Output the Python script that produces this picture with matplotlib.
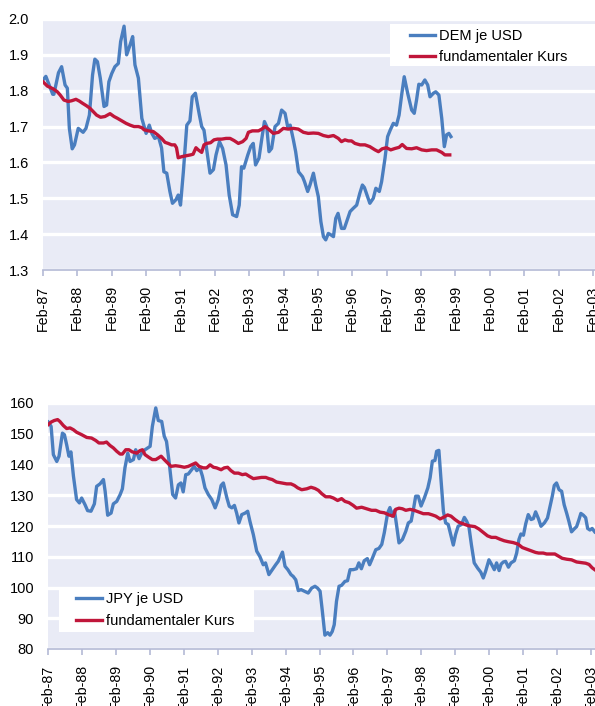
import matplotlib.pyplot as plt
from matplotlib.patches import Rectangle

plt.rcParams['font.family'] = ['Liberation Sans', 'DejaVu Sans']

# months counted from Feb-87
dem_month = [0, 1, 3.4, 3.8, 5.4, 6.5, 7.7, 8.5, 9.2, 10.2, 11, 12.3, 14, 15, 16.2, 17.3, 18.1, 19, 20,
             21.3, 22.2, 23, 24, 25.1, 26.3, 27.1, 28.3, 29.2, 30.4, 31.3, 32.1, 33.3, 34.5, 36, 37.1, 38,
             39, 40.3, 41.4, 42.2, 43.2, 44.3, 45.2, 46.4, 47.2, 48, 49, 50.2, 51.3, 52.1, 53.2, 54.6,
             55.4, 56.2, 57.1, 58.3, 59.5, 60.4, 61.6, 62.7, 63.9, 65, 66.2, 67.6, 68.5, 69.3, 70.1,
             71.5, 72.5, 73.4, 74.2, 75.4, 76.4, 77.3, 78.1, 78.9, 79.8, 81, 82.2, 83.3, 84.5, 85.4,
             86.3, 87.4, 88.2, 89.2, 90.6, 91.3, 92.4, 93.2, 94.4, 95.2, 96.1, 97, 97.9, 98.7, 99.6,
             100.5, 101.4, 102.2, 103, 104.2, 105.2, 106, 107.2, 108.3, 109.5, 110.6, 111.5, 112.2,
             113.3, 114.1, 115.3, 116.2, 117.4, 118.2, 119.4, 120.3, 121.2, 122.3, 123.4, 124.3,
             125.2, 126.1, 127.3, 128.7, 129.6, 130.4, 131.2, 132.2, 133.3, 134.3, 135.1, 136.3,
             137.1, 138.2, 139.2, 140.1, 140.9, 141.7, 142.4]
dem_value = [1.83, 1.84, 1.79, 1.79, 1.85, 1.867, 1.816, 1.807, 1.695, 1.638, 1.649, 1.695, 1.684,
             1.695, 1.732, 1.844, 1.888, 1.881, 1.835, 1.756, 1.76, 1.825, 1.848, 1.867, 1.876, 1.937,
             1.98, 1.9, 1.928, 1.951, 1.872, 1.835, 1.723, 1.681, 1.704, 1.681, 1.667, 1.672, 1.64,
             1.574, 1.57, 1.519, 1.486, 1.496, 1.509, 1.481, 1.574, 1.704, 1.716, 1.783, 1.793, 1.732,
             1.70, 1.69, 1.639, 1.57, 1.58, 1.621, 1.658, 1.639, 1.593, 1.509, 1.454, 1.449, 1.481,
             1.588, 1.584, 1.621, 1.644, 1.653, 1.593, 1.612, 1.667, 1.714, 1.70, 1.63, 1.639, 1.70,
             1.709, 1.746, 1.737, 1.70, 1.704, 1.663, 1.63, 1.574, 1.56, 1.546, 1.519, 1.537, 1.57,
             1.537, 1.505, 1.435, 1.393, 1.384, 1.402, 1.398, 1.393, 1.444, 1.458, 1.416, 1.416, 1.435,
             1.463, 1.472, 1.481, 1.514, 1.537, 1.53, 1.505, 1.486, 1.5, 1.528, 1.519, 1.546, 1.612,
             1.672, 1.69, 1.709, 1.704, 1.732, 1.788, 1.839, 1.793, 1.746, 1.737, 1.774, 1.818, 1.816,
             1.83, 1.816, 1.783, 1.793, 1.797, 1.788, 1.723, 1.644, 1.677, 1.681, 1.672]

dem_fund_month = [0, 1.5, 3.6, 5, 6, 7.3, 8.8, 10, 11.5, 12.7, 13.8, 15.2, 16.4, 17.5, 18.7, 20.1, 21.6,
                  23.4, 24.8, 26, 27.5, 29, 30.4, 31.8, 33.3, 34.5, 35.3, 36.8, 38.5, 40, 41.4, 42.6,
                  43.7, 44.9, 46, 46.6, 47.2, 48.4, 50.2, 51.5, 52.4, 53.4, 54.2, 55.4, 56.2, 57.1, 58.5,
                  59.7, 60.9, 62.4, 63.9, 65.3, 66.7, 68.2, 69.7, 70.9, 71.7, 73.1, 75.2, 76.4, 77.5,
                  78.7, 80.4, 82.2, 83.9, 85.6, 87.4, 89.1, 90.9, 92.6, 94.4, 96.1, 97.9, 99.6, 101.4,
                  103.1, 104.2, 105.4, 106.6, 107.7, 108.9, 110.7, 112.4, 114.1, 115.9, 117.1, 118.4,
                  119.9, 121.4, 122.9, 124.3, 125.4, 126.9, 128.7, 130.4, 132.2, 133.9, 135.7, 137.4,
                  139.2, 140.3, 142]
dem_fund_value = [1.825, 1.813, 1.805, 1.797, 1.788, 1.774, 1.77, 1.772, 1.776, 1.771, 1.765, 1.758,
                  1.751, 1.742, 1.732, 1.726, 1.728, 1.736, 1.728, 1.723, 1.716, 1.709, 1.704, 1.70,
                  1.70, 1.697, 1.691, 1.688, 1.686, 1.677, 1.667, 1.656, 1.653, 1.649, 1.649, 1.641,
                  1.613, 1.616, 1.619, 1.621, 1.623, 1.641, 1.635, 1.628, 1.649, 1.653, 1.655, 1.663,
                  1.665, 1.665, 1.667, 1.667, 1.661, 1.653, 1.658, 1.667, 1.684, 1.688, 1.688, 1.693,
                  1.70, 1.693, 1.681, 1.684, 1.695, 1.693, 1.695, 1.693, 1.684, 1.681, 1.682, 1.681,
                  1.675, 1.672, 1.675, 1.667, 1.658, 1.663, 1.66, 1.66, 1.653, 1.649, 1.649, 1.644,
                  1.635, 1.630, 1.638, 1.641, 1.635, 1.639, 1.642, 1.65, 1.639, 1.638, 1.641, 1.635,
                  1.633, 1.635, 1.635, 1.628, 1.621, 1.621]

jpy_month = [0.1, 1.1, 1.9, 3.1, 3.9, 5.1, 5.8, 6.6, 7.4, 8.1, 9, 10.1, 11.1, 11.9, 13.1, 14, 15.2, 16.4,
             17.2, 18.4, 19.6, 20.2, 21.1, 22.3, 23.1, 24.3, 25.5, 26.3, 27.2, 28.2, 29, 30.2, 31, 32.2,
             33.1, 34.3, 36.1, 36.9, 38.1, 39, 40.2, 41.1, 41.9, 42.8, 43.5, 44.1, 45.1, 46.1, 47, 47.8,
             48.7, 49.6, 50.8, 51.7, 52.6, 53.7, 54.6, 55.5, 56.7, 57.9, 59.1, 60.2, 61.2, 62, 63.2,
             64.1, 65, 65.9, 66.7, 67.5, 68.5, 69.7, 70.6, 71.4, 72.6, 73.8, 74.9, 76.1, 76.9, 78.1,
             79.3, 80.5, 81.4, 82.9, 83.8, 84.8, 85.9, 86.7, 87.6, 88.5, 89.5, 90.6, 92, 93.2, 94.4,
             95.3, 96.2, 97, 97.9, 98.9, 99.7, 100.5, 101.2, 102, 102.9, 103.8, 105, 105.9, 106.8,
             107.9, 109.1, 109.9, 110.8, 111.8, 112.9, 113.7, 114.5, 115.9, 117, 118, 118.9, 120.1,
             120.9, 121.7, 122.5, 123.3, 124.1, 125.3, 126.5, 127.4, 128.4, 129.2, 130, 130.9, 131.9,
             133.1, 134.3, 135.1, 135.9, 136.8, 137.4, 138.2, 138.9, 139.8, 140.6, 141.5, 142.1,
             143.3, 144.1, 145, 146.2, 147.2, 148, 148.8, 149.7, 150.7, 151.9, 153, 153.9, 154.7,
             155.9, 156.9, 157.8, 158.6, 159.5, 160.2, 161, 161.8, 162.8, 163.7, 164.9, 165.7, 166.5,
             167.2, 168.1, 168.9, 169.8, 170.8, 171.6, 172.4, 173.4, 174.3, 175.5, 176.6, 177.5,
             178.3, 179, 179.8, 180.7, 181.6, 182.5, 183.4, 184.2, 185.1, 186, 186.9, 187.7, 188.4,
             189.3, 190.1, 190.8, 191.6, 192.4, 193.3]
jpy_value = [153.8, 152.4, 143.2, 141.0, 142.7, 150.2, 149.7, 146.4, 142.7, 144.1, 136.2, 128.6, 127.5,
             129.1, 126.9, 125.0, 124.8, 127.2, 132.9, 133.7, 135.1, 131.3, 123.5, 124.2, 127.2, 128.0,
             130.2, 132.1, 138.9, 143.7, 141.0, 141.6, 144.8, 141.9, 143.7, 144.8, 145.9, 152.4, 158.4,
             154.3, 154.0, 149.2, 147.5, 141.0, 135.1, 130.2, 129.1, 133.4, 134.0, 131.1, 136.7, 136.9,
             138.3, 139.4, 138.0, 138.9, 136.2, 132.4, 130.2, 128.6, 125.9, 128.6, 133.2, 134.0, 129.3,
             126.4, 125.9, 126.7, 124.2, 121.0, 123.7, 124.2, 124.8, 121.5, 117.2, 111.8, 110.1, 107.4,
             108.0, 104.2, 105.8, 107.4, 108.5, 111.5, 106.9, 105.8, 104.2, 103.6, 102.5, 99.0, 99.3,
             98.8, 98.2, 99.8, 100.4, 99.8, 98.8, 92.3, 84.5, 85.3, 84.5, 85.7, 87.9, 95.5, 100.4, 100.7,
             102.0, 102.2, 105.8, 105.8, 106.1, 108.0, 106.1, 108.7, 109.4, 107.4, 109.1, 112.3, 112.7,
             114.0, 117.8, 124.3, 126.0, 123.2, 125.0, 119.9, 114.5, 115.6, 118.3, 121.0, 121.6, 125.4,
             129.7, 129.7, 126.5, 129.2, 132.4, 135.7, 141.1, 141.3, 144.3, 144.6, 135.7, 124.8, 121.0,
             120.5, 118.3, 113.8, 117.2, 119.9, 120.5, 122.8, 121.6, 119.9, 113.9, 108.0, 106.3, 105.0,
             103.1, 105.2, 109.0, 107.4, 105.8, 108.0, 105.5, 107.6, 108.3, 108.5, 106.6, 108.0, 108.7,
             111.2, 115.6, 117.4, 117.0, 120.7, 123.7, 122.1, 122.4, 124.6, 122.4, 119.9, 121.0, 122.6,
             126.4, 129.7, 133.2, 134.0, 131.8, 131.3, 126.9, 124.1, 121.4, 118.1, 119.0, 119.8, 122.0,
             124.1, 123.5, 122.7, 119.2, 118.7, 119.2, 118.1]

jpy_fund_month = [0.1, 1.1, 2.2, 3.4, 4.2, 5.4, 6.6, 7.8, 9, 10.1, 11.9, 13.7, 15.4, 16.9, 18, 19.6, 20.7,
                  21.9, 23.1, 24.3, 25.5, 26.3, 27.5, 28.6, 29.8, 31.4, 32.5, 33.4, 34.3, 35.7, 36.9,
                  38.1, 39, 40, 41.1, 42.3, 43.5, 45.1, 46.7, 48.2, 49.6, 50.8, 52.2, 53.4, 54.9, 56.1,
                  57.3, 58.5, 59.6, 61.2, 62.3, 63.5, 64.7, 65.9, 67.3, 68.7, 69.9, 71.1, 72.6, 74.1,
                  75.5, 77, 78.1, 79.3, 80.8, 82.6, 84.4, 85.9, 87.1, 88.3, 89.7, 91.5, 93, 94.4, 95.6,
                  96.8, 98.2, 99.7, 100.9, 102.4, 103.8, 105, 106.4, 107.9, 109.1, 110.9, 112.7, 114.4,
                  115.9, 117.4, 118.9, 120.6, 122.1, 122.9, 124.1, 125.3, 126.5, 128, 129.5, 131.2,
                  132.7, 134.5, 135.9, 137.1, 138.6, 139.8, 141.3, 142.5, 143.9, 145.3, 146.8, 148.6,
                  150, 150.9, 152.4, 153.9, 155.4, 156.8, 158.3, 159.8, 161.3, 162.7, 164.5, 166.2,
                  167.7, 169.2, 170.9, 172.4, 173.5, 175.1, 176.3, 177.8, 179.2, 180.7, 181.8, 183.4,
                  185.1, 186.9, 188.4, 190.1, 191.3, 192.4, 193.3]
jpy_fund_value = [153.0, 153.8, 154.3, 154.6, 154.0, 152.7, 151.7, 151.9, 151.3, 150.5, 149.7, 148.8,
                  148.6, 147.8, 147.0, 147.0, 147.3, 146.2, 145.4, 144.3, 143.4, 143.4, 144.8, 144.8,
                  144.1, 143.7, 144.5, 144.8, 143.2, 142.3, 141.6, 141.6, 142.1, 142.7, 141.6, 140.5,
                  139.4, 139.6, 139.4, 139.1, 139.4, 139.9, 140.5, 139.4, 138.9, 138.9, 139.9, 139.1,
                  138.9, 138.3, 138.9, 139.1, 138.0, 137.2, 137.2, 136.7, 136.9, 136.2, 135.4, 135.6,
                  135.8, 135.8, 135.4, 135.1, 134.3, 134.0, 133.7, 133.7, 133.2, 132.4, 131.8, 132.1,
                  132.6, 132.2, 131.6, 130.5, 129.5, 129.5, 129.1, 128.3, 128.9, 128.0, 127.6, 126.7,
                  125.8, 126.1, 125.6, 125.1, 125.1, 124.5, 124.3, 123.6, 123.2, 125.4, 125.8, 125.6,
                  125.1, 125.4, 125.1, 124.5, 124.0, 124.0, 123.6, 123.2, 122.3, 122.8, 123.6, 123.2,
                  122.1, 121.2, 120.7, 120.1, 119.9, 119.8, 119.0, 117.9, 116.8, 116.3, 116.3, 115.7,
                  115.2, 114.9, 114.6, 114.1, 113.0, 112.5, 111.9, 111.4, 111.2, 111.2, 110.9, 110.9,
                  110.9, 110.1, 109.5, 109.2, 109.0, 108.3, 108.1, 107.9, 107.5, 106.4, 105.8]

tick_months = list(range(0, 193, 12))
tick_labels = ['Feb-%02d' % (y % 100) for y in range(87, 104)]

blue = '#4A7EBF'
red = '#C0163A'
bg = '#E9EBF6'
axis_col = '#B4BAD6'

fig = plt.figure(figsize=(5.95, 7.06), dpi=100)


def style(ax, xmax, ylim, yticks, yfmt):
    ax.set_facecolor(bg)
    ax.set_xlim(0, xmax)
    ax.set_ylim(*ylim)
    ax.set_yticks(yticks)
    ax.set_yticklabels([yfmt % v for v in yticks])
    ax.set_xticks(tick_months)
    ax.set_xticklabels(tick_labels, rotation=90)
    ax.grid(axis='y', color='white', linewidth=2.4)
    ax.set_axisbelow(True)
    for s in ['top', 'right', 'left']:
        ax.spines[s].set_visible(False)
    ax.spines['bottom'].set_color(axis_col)
    ax.spines['bottom'].set_linewidth(1.2)
    ax.tick_params(axis='y', length=0, pad=10, labelsize=10.5)
    ax.tick_params(axis='x', length=4, color=axis_col, width=1.2, pad=7, labelsize=10.3)


# DEM panel
ax1 = fig.add_axes([43 / 595, 1 - 270 / 706, 552 / 595, 251 / 706])
style(ax1, 192.7, (1.3, 2.0), [1.3, 1.4, 1.5, 1.6, 1.7, 1.8, 1.9, 2.0], '%.1f')
ax1.plot(dem_month, dem_value, color=blue, lw=2.4, label='DEM je USD', zorder=3)
ax1.plot(dem_fund_month, dem_fund_value, color=red, lw=2.4, label='fundamentaler Kurs', zorder=3)
ax1.add_patch(Rectangle((0.6286, 0.813), 0.4, 0.167, transform=ax1.transAxes,
                        facecolor='white', edgecolor='none', zorder=4))
ax1.legend(loc='upper left', bbox_to_anchor=(0.66, 0.973), frameon=False, fontsize=10.5,
           handlelength=1.7, handletextpad=0.3, labelspacing=0.5, borderaxespad=0,
           borderpad=0.2).set_zorder(5)

# JPY panel
ax2 = fig.add_axes([48 / 595, 1 - 649 / 706, 547 / 595, 246 / 706])
style(ax2, 193.4, (80, 160), list(range(80, 161, 10)), '%d')
ax2.plot(jpy_month, jpy_value, color=blue, lw=2.4, label='JPY je USD', zorder=3)
ax2.plot(jpy_fund_month, jpy_fund_value, color=red, lw=2.4, label='fundamentaler Kurs', zorder=3)
ax2.add_patch(Rectangle((0.0201, 0.0691), 0.3565, 0.1748, transform=ax2.transAxes,
                        facecolor='white', edgecolor='none', zorder=4))
ax2.legend(loc='upper left', bbox_to_anchor=(0.045, 0.245), frameon=False, fontsize=10.5,
           handlelength=1.8, handletextpad=0.3, labelspacing=0.6, borderaxespad=0,
           borderpad=0.2).set_zorder(5)

fig.savefig('out.png', dpi=100)
